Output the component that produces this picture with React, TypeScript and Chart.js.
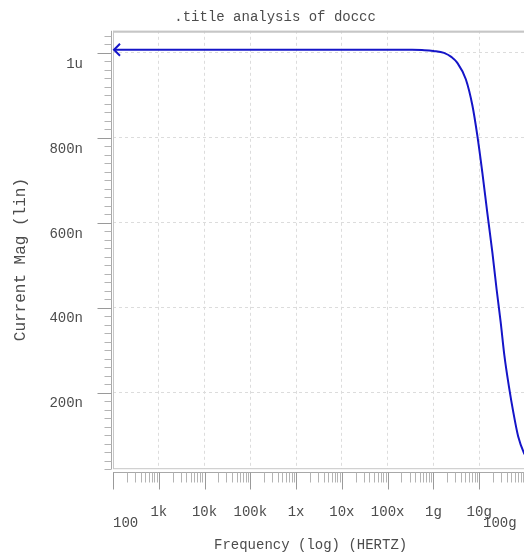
import React, { useEffect, useRef } from "react";
import { Chart, registerables } from "chart.js";

Chart.register(...registerables);

// ---- data ----
const titleText = "   .title analysis of doccc";
const xTitle = "Frequency (log) (HERTZ)  ";
const yTitle = "Current Mag (lin)  ";

// frequency in Hz
const freqHz = [
  100, 1e3, 1e4, 1e5, 1e6, 1e7, 1e8, 3e8, 6.3e8, 1e9, 1.7e9, 2.5e9, 3.3e9,
  5.1e9, 7.1e9, 9.1e9, 1.17e10, 1.5e10, 1.94e10, 2.4e10, 2.95e10, 3.56e10,
  4.45e10, 5.6e10, 7.1e10, 9.5e10, 1e11,
];
// current magnitude in nA
const currentNA = [
  1007.5, 1007.5, 1007.5, 1007.5, 1007.5, 1007.5, 1007.5, 1007.3, 1006.5,
  1004.5, 1000, 990, 977, 938, 876, 805, 718, 624, 530, 443, 365, 286, 215,
  152, 97, 58, 54,
];

// axis ticks
const xDecades = [1e2, 1e3, 1e4, 1e5, 1e6, 1e7, 1e8, 1e9, 1e10, 1e11];
const xTickLabels = ["100", "1k", "10k", "100k", "1x", "10x", "100x", "1g", "10g", "100g "];
const xLowerRow = [true, false, false, false, false, false, false, false, false, true];
const yMajor = [200, 400, 600, 800, 1000];
const yTickLabels = ["200n", "400n", "600n", "800n", "1u"];
const yMin = 20;
const yMax = 1052;
const xMin = 100;
const xMax = 1e11;

const FONT = "'Liberation Mono', 'Courier New', monospace";
const TEXT = "#4c4c4c";
const LINE = "#1515c8";

const stripPlugin = {
  id: "strips",
  afterDraw(chart: any) {
    const { ctx, chartArea: a, scales } = chart;
    const xs = scales.x;
    const ys = scales.y;
    ctx.save();
    // plot frame
    ctx.strokeStyle = "#c6c6c6";
    ctx.lineWidth = 1;
    ctx.strokeRect(a.left + 0.5, a.top + 0.5, a.right - a.left - 1, a.bottom - a.top - 1);
    ctx.lineWidth = 2;
    ctx.beginPath();
    ctx.moveTo(a.left, a.top + 1);
    ctx.lineTo(a.right, a.top + 1);
    ctx.stroke();

    // x tick strip
    ctx.strokeStyle = "#a8a8a8";
    ctx.lineWidth = 1;
    const sy = Math.round(a.bottom + 3) + 0.5;
    ctx.beginPath();
    ctx.moveTo(a.left, sy);
    ctx.lineTo(a.right, sy);
    ctx.stroke();
    for (let d = 0; d < xDecades.length; d++) {
      for (let m = 1; m <= 9; m++) {
        const v = xDecades[d] * m;
        if (v > xMax) break;
        const px = Math.round(xs.getPixelForValue(v)) + 0.5;
        const len = m === 1 ? 17 : 10;
        ctx.strokeStyle = m === 1 ? "#9a9a9a" : "#b4b4b4";
        ctx.beginPath();
        ctx.moveTo(px, sy);
        ctx.lineTo(px, sy + len);
        ctx.stroke();
      }
    }

    // y tick strip
    const sx = Math.round(a.left - 1) - 0.5;
    ctx.strokeStyle = "#a8a8a8";
    ctx.beginPath();
    ctx.moveTo(sx, a.top);
    ctx.lineTo(sx, a.bottom);
    ctx.stroke();
    for (let v = yMin; v <= yMax; v += 20) {
      const py = Math.round(ys.getPixelForValue(v)) + 0.5;
      const major = v % 200 === 0;
      const len = major ? 14 : 7;
      ctx.strokeStyle = major ? "#9a9a9a" : "#b4b4b4";
      ctx.beginPath();
      ctx.moveTo(sx - len, py);
      ctx.lineTo(sx, py);
      ctx.stroke();
    }

    // arrow head at the start of the trace
    const meta = chart.getDatasetMeta(0);
    const p0 = meta.data[0];
    if (p0) {
      ctx.strokeStyle = LINE;
      ctx.lineWidth = 2;
      ctx.beginPath();
      ctx.moveTo(p0.x + 7, p0.y - 6);
      ctx.lineTo(p0.x + 1, p0.y);
      ctx.lineTo(p0.x + 7, p0.y + 6);
      ctx.stroke();
    }
    ctx.restore();
  },
};

export default function App() {
  const ref = useRef<HTMLCanvasElement | null>(null);
  useEffect(() => {
    if (!ref.current) return;
    const points = freqHz.map((f, i) => ({ x: f, y: currentNA[i] }));
    const chart = new Chart(ref.current, {
      type: "line",
      data: {
        datasets: [
          {
            data: points,
            borderColor: LINE,
            borderWidth: 2,
            pointRadius: 0,
            cubicInterpolationMode: "monotone",
            fill: false,
          },
        ],
      },
      options: {
        animation: false,
        responsive: false,
        devicePixelRatio: 1,
        layout: { padding: { left: 0, right: 0, top: 0, bottom: 0 } },
        plugins: {
          legend: { display: false },
          tooltip: { enabled: false },
          title: {
            display: true,
            text: titleText,
            color: TEXT,
            font: { family: FONT, size: 14, weight: "normal", lineHeight: 1.2 },
            padding: { top: 9, bottom: 5 },
          },
        },
        scales: {
          x: {
            type: "logarithmic",
            min: xMin,
            max: xMax,
            afterBuildTicks: (scale: any) => {
              scale.ticks = xDecades.map((v) => ({ value: v }));
            },
            ticks: {
              autoSkip: false,
              maxRotation: 0,
              minRotation: 0,
              align: "inner",
              padding: 0,
              color: TEXT,
              font: { family: FONT, size: 14, lineHeight: 0.8 },
              callback: (value: any) => {
                const i = xDecades.indexOf(Number(value));
                if (i < 0) return "";
                return xLowerRow[i] ? ["", xTickLabels[i]] : xTickLabels[i];
              },
            },
            grid: {
              color: "#dcdcdc",
              lineWidth: 1,
              drawTicks: true,
              tickLength: 37,
              tickColor: "rgba(0,0,0,0)",
            },
            border: { display: false, dash: [3, 3] },
            title: {
              display: true,
              text: xTitle,
              color: TEXT,
              font: { family: FONT, size: 14, lineHeight: 1.2 },
              padding: { top: 8, bottom: 1.6 },
            },
          },
          y: {
            type: "linear",
            min: yMin,
            max: yMax,
            afterBuildTicks: (scale: any) => {
              scale.ticks = yMajor.map((v) => ({ value: v }));
            },
            ticks: {
              autoSkip: false,
              padding: 0,
              labelOffset: 11,
              color: TEXT,
              font: { family: FONT, size: 14, lineHeight: 1.2 },
              callback: (value: any) => {
                const i = yMajor.indexOf(Number(value));
                return i < 0 ? "" : yTickLabels[i];
              },
            },
            grid: {
              color: "#dcdcdc",
              lineWidth: 1,
              drawTicks: true,
              tickLength: 30,
              tickColor: "rgba(0,0,0,0)",
            },
            border: { display: false, dash: [3, 3] },
            title: {
              display: true,
              text: yTitle,
              color: TEXT,
              font: { family: FONT, size: 16, lineHeight: 1.2 },
              padding: { top: 11.4, bottom: 18.8 },
            },
          },
        },
      },
      plugins: [stripPlugin],
    } as any);
    return () => chart.destroy();
  }, []);

  return (
    <div
      style={{
        position: "fixed",
        left: 0,
        top: 0,
        width: 524,
        height: 555,
        overflow: "hidden",
        background: "#ffffff",
      }}
    >
      <canvas ref={ref} width={525} height={555} style={{ display: "block" }} />
    </div>
  );
}
